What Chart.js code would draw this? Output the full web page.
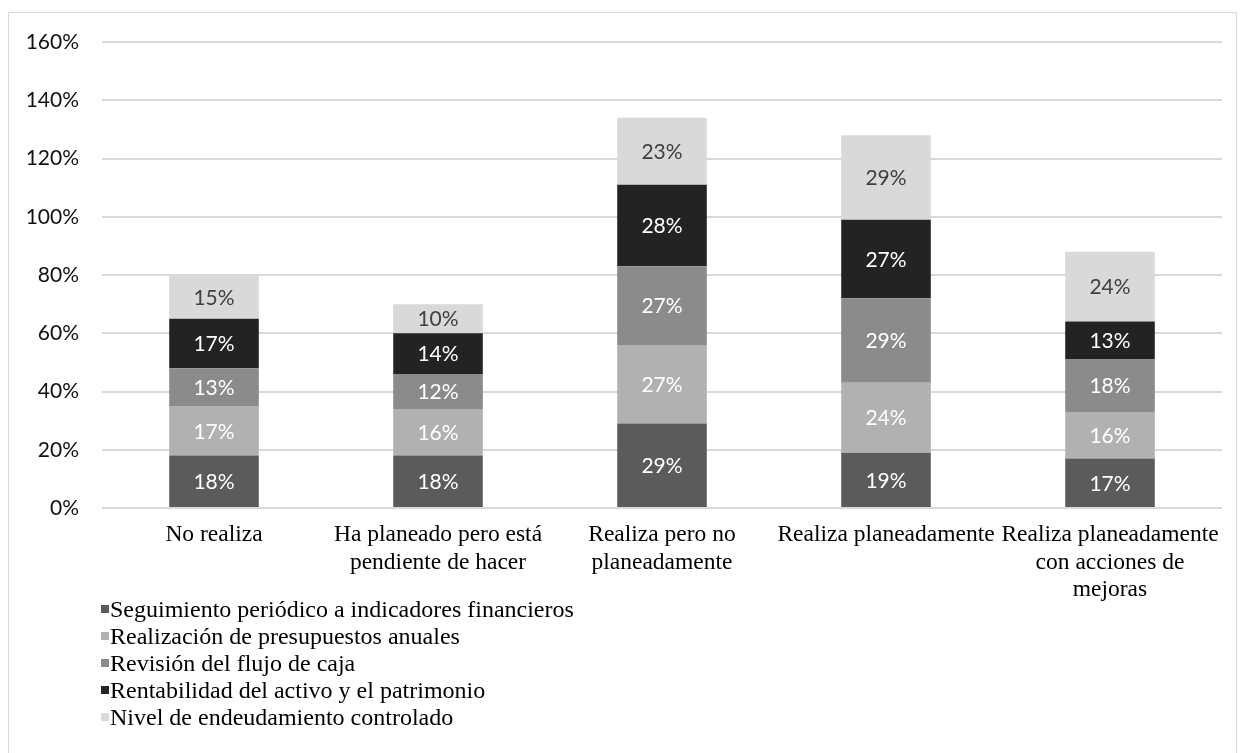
<!DOCTYPE html>
<html lang="es">
<head>
  <meta charset="UTF-8">
  <title>Indicadores financieros por nivel de realización</title>
  <script src="https://cdn.jsdelivr.net/npm/chart.js"></script>
  <style>
    body { margin: 0; background: #fff; }
    #wrap { position: absolute; left: 0; top: 0; width: 1246px; height: 753px; }
    .marco {
      position: absolute; left: 8px; top: 12px; width: 1229px; height: 745px;
      border: 1px solid #d9d9d9; box-sizing: border-box; pointer-events: none;
    }
    .leyenda {
      position: absolute; left: 101px; top: 596px;
      font-family: 'Liberation Serif', 'Times New Roman', serif;
      font-size: 24px; line-height: 27px; color: #000;
    }
    .leyenda div { white-space: nowrap; }
    .leyenda span.caja {
      display: inline-block; width: 8px; height: 8px; margin-right: 1px;
      vertical-align: 4px;
    }
  </style>
</head>
<body>
  <div id="wrap">
    <canvas id="grafico" width="1246" height="753"></canvas>
    <div class="marco"></div>
    <div class="leyenda" id="leyenda"></div>
  </div>

  <script>
    // categorías del eje x (con saltos de línea)
    const categorias = [
      'No realiza',
      ['Ha planeado pero está', 'pendiente de hacer'],
      ['Realiza pero no', 'planeadamente'],
      'Realiza planeadamente',
      ['Realiza planeadamente', 'con acciones de', 'mejoras']
    ];

    const series = [
      'Seguimiento periódico a indicadores financieros',
      'Realización de presupuestos anuales',
      'Revisión del flujo de caja',
      'Rentabilidad del activo y el patrimonio',
      'Nivel de endeudamiento controlado'
    ];

    // valores en %
    const seguimiento  = [18, 18, 29, 19, 17];
    const presupuestos = [17, 16, 27, 24, 16];
    const flujoCaja    = [13, 12, 27, 29, 18];
    const rentabilidad = [17, 14, 28, 27, 13];
    const endeudamiento = [15, 10, 23, 29, 24];

    const ticksY = [0, 20, 40, 60, 80, 100, 120, 140, 160];

    const colores = ['#5b5b5b', '#b1b1b1', '#8b8b8b', '#232323', '#d9d9d9'];
    const colorTexto = ['#ffffff', '#ffffff', '#ffffff', '#ffffff', '#404040'];

    const valores = [seguimiento, presupuestos, flujoCaja, rentabilidad, endeudamiento];

    // etiquetas dentro de cada segmento
    const etiquetas = {
      id: 'etiquetas',
      afterDatasetsDraw(chart) {
        const ctx = chart.ctx;
        ctx.save();
        ctx.font = '21px Lato';
        ctx.textAlign = 'center';
        ctx.textBaseline = 'middle';
        chart.data.datasets.forEach((ds, i) => {
          const meta = chart.getDatasetMeta(i);
          meta.data.forEach((bar, j) => {
            ctx.fillStyle = colorTexto[i];
            ctx.fillText(ds.data[j] + '%', bar.x, (bar.y + bar.base) / 2 + 1);
          });
        });
        ctx.restore();
      }
    };

    const chart = new Chart(document.getElementById('grafico'), {
      type: 'bar',
      data: {
        labels: categorias,
        datasets: series.map((nombre, i) => ({
          label: nombre,
          data: valores[i],
          backgroundColor: colores[i],
          borderWidth: 0,
          barPercentage: 0.4,
          categoryPercentage: 1
        }))
      },
      options: {
        responsive: false,
        animation: false,
        layout: { padding: { top: 42, left: 8, right: 24, bottom: 140 } },
        plugins: {
          legend: { display: false },
          tooltip: { enabled: false }
        },
        scales: {
          x: {
            stacked: true,
            grid: { display: false, drawTicks: false },
            border: { display: false },
            ticks: {
              color: '#000',
              font: { family: 'Liberation Serif', size: 23.5, lineHeight: 1.18 },
              padding: 13,
              maxRotation: 0,
              autoSkip: false
            },
            afterFit(scale) { scale.height = 105; }
          },
          y: {
            stacked: true,
            min: 0,
            max: 160,
            afterBuildTicks(scale) { scale.ticks = ticksY.map(v => ({ value: v })); },
            grid: { color: '#d9d9d9', lineWidth: 2, drawTicks: false },
            border: { display: false },
            ticks: {
              color: '#111',
              font: { family: 'Lato', size: 21 },
              padding: 23,
              callback: v => v + '%'
            },
            afterFit(scale) { scale.width = 94; }
          }
        }
      },
      plugins: [etiquetas]
    });

    // leyenda vertical abajo a la izquierda
    const leyenda = document.getElementById('leyenda');
    series.forEach((nombre, i) => {
      const fila = document.createElement('div');
      const caja = document.createElement('span');
      caja.className = 'caja';
      caja.style.background = colores[i];
      fila.appendChild(caja);
      fila.appendChild(document.createTextNode(nombre));
      leyenda.appendChild(fila);
    });
  </script>
</body>
</html>
